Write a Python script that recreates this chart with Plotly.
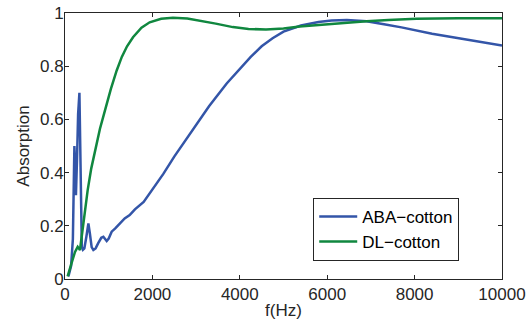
import plotly.graph_objects as go

aba_f = [78, 140, 180, 200, 215, 232, 250, 275, 300, 330, 350, 365, 385, 410, 443, 490, 535, 570, 610, 649,
         700, 760, 830, 878, 920, 954, 1000, 1068, 1150, 1281, 1366, 1480, 1600, 1800, 2000, 2250, 2500, 2750, 3000,
         3300, 3700, 4000, 4250, 4500, 4750, 5000, 5400, 5800, 6100, 6450, 6900, 7300, 7700, 8400, 9200, 10000]
aba_a = [0.01, 0.05, 0.15, 0.33, 0.50, 0.42, 0.315, 0.45, 0.62, 0.70, 0.45, 0.22, 0.12, 0.11, 0.115, 0.16, 0.209,
         0.17, 0.12, 0.109, 0.115, 0.135, 0.155, 0.159, 0.15, 0.143, 0.152, 0.178, 0.19, 0.215, 0.228, 0.24, 0.262,
         0.29, 0.335, 0.395, 0.46, 0.52, 0.58, 0.65, 0.735, 0.79, 0.835, 0.875, 0.905, 0.93, 0.953, 0.966,
         0.972, 0.974, 0.969, 0.958, 0.946, 0.922, 0.899, 0.878]

dl_f = [60, 78, 150, 229, 290, 343, 398, 458, 519, 600, 686, 800, 915, 1050, 1183, 1300, 1420, 1556,
        1750, 1938, 2200, 2470, 2800, 3080, 3450, 3840, 4200, 4600, 5000, 5370, 5750, 6130, 6500, 6900, 7400,
        8040, 9000, 10000]
dl_a = [0.01, 0.021, 0.06, 0.102, 0.121, 0.109, 0.184, 0.259, 0.334, 0.415, 0.484, 0.565, 0.634, 0.715, 0.784,
        0.835, 0.875, 0.909, 0.945, 0.965, 0.978, 0.982, 0.979, 0.972, 0.96, 0.947, 0.94, 0.938, 0.942, 0.949,
        0.954, 0.959, 0.965, 0.969, 0.974, 0.978, 0.98, 0.98]

x_ticks = [0, 2000, 4000, 6000, 8000, 10000]
y_ticks = [0, 0.2, 0.4, 0.6, 0.8, 1]
y_tick_text = ["0", "0.2", "0.4", "0.6", "0.8", "1"]

axis_color = "#262626"
font_family = "Liberation Sans, Arial, sans-serif"

fig = go.Figure()
fig.add_trace(go.Scatter(x=aba_f, y=aba_a, mode="lines", name="ABA\u2212cotton",
                         line=dict(color="#3355A8", width=2.5)))
fig.add_trace(go.Scatter(x=dl_f, y=dl_a, mode="lines", name="DL\u2212cotton",
                         line=dict(color="#10873F", width=2.5)))

axis_common = dict(showgrid=False, zeroline=False, showline=True, linecolor=axis_color, linewidth=1,
                   mirror="ticks", ticks="inside", ticklen=4, tickcolor=axis_color, automargin=False,
                   tickfont=dict(family=font_family, size=17, color=axis_color))

fig.update_layout(
    width=530, height=325,
    margin=dict(l=65, r=28, t=13, b=46),
    paper_bgcolor="white", plot_bgcolor="white",
    font=dict(family=font_family, size=17, color=axis_color),
    xaxis=dict(range=[0, 10000], tickvals=x_ticks, ticktext=[str(v) for v in x_ticks],
               title=dict(text="f(Hz)", standoff=0, font=dict(size=17)), **axis_common),
    yaxis=dict(range=[0, 1], tickvals=y_ticks, ticktext=y_tick_text, ticklabelstandoff=-3,
               title=dict(text="Absorption", standoff=6, font=dict(size=17)), **axis_common),
    legend=dict(x=0.568, y=0.305, xanchor="left", yanchor="top", bordercolor=axis_color, borderwidth=1,
                bgcolor="white", font=dict(family=font_family, size=17, color="#000000"),
                tracegroupgap=0, itemwidth=38),
    showlegend=True,
)

fig.write_html("out.html")
